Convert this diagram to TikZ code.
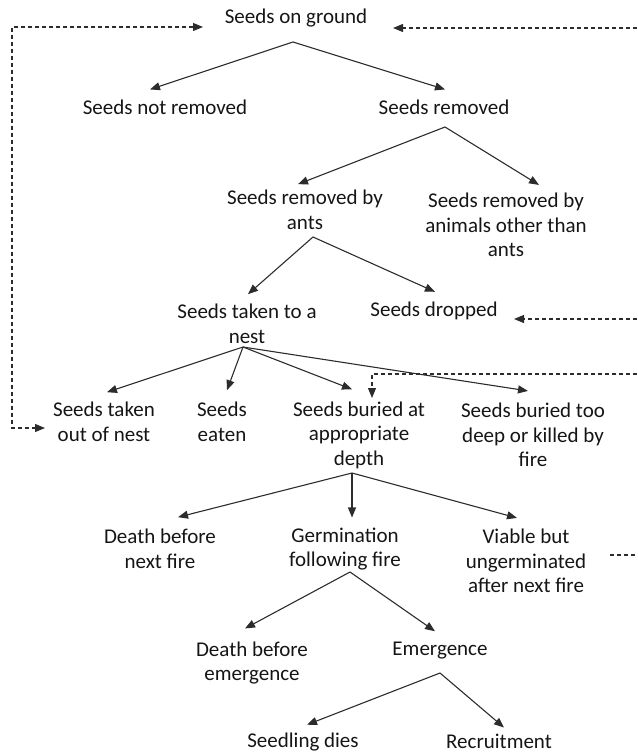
\documentclass[tikz,border=0pt]{standalone}
\usepackage{fontspec}
\setmainfont{Carlito}
\usepackage{tikz}
\usetikzlibrary{arrows.meta,positioning,calc}
\definecolor{ink}{HTML}{151515}
\tikzset{
  >=Latex,
  every node/.style={font=\fontsize{21}{24.5}\selectfont,text=ink},
  stage/.style={align=center,inner sep=0pt},
  arrow/.style={-{Triangle[length=10pt,width=8pt]},line width=1.1pt,draw=ink!90},
  feedback/.style={arrow,dash pattern=on 4pt off 3pt},
  twoway/.style={feedback,{Triangle[length=10pt,width=8pt]}-{Triangle[length=10pt,width=8pt]}}
}

\begin{document}
\begin{tikzpicture}[x=1pt,y=-1pt]
  \useasboundingbox (0,0) rectangle (637,754);

  \node[stage] (ground) at (296,18) {Seeds on ground};
  \node[stage] (notrem) at (165,107) {Seeds not removed};
  \node[stage] (removed) at (444,107) {Seeds removed};
  \node[stage] (byants) at (305,210) {Seeds removed by\\ants};
  \node[stage] (byother) at (506,225) {Seeds removed by\\animals other than\\ants};
  \node[stage] (nest) at (247,324) {Seeds taken to a\\nest};
  \node[stage] (dropped) at (434,311) {Seeds dropped};
  \node[stage] (out) at (104,422) {Seeds taken\\out of nest};
  \node[stage] (eaten) at (222,422) {Seeds\\eaten};
  \node[stage] (buried) at (359,435) {Seeds buried at\\appropriate\\depth};
  \node[stage] (deep) at (533,435) {Seeds buried too\\deep or killed by\\fire};
  \node[stage] (dnext) at (160,549) {Death before\\next fire};
  \node[stage] (germ) at (345,549) {Germination\\following fire};
  \node[stage] (viable) at (526,561) {Viable but\\ungerminated\\after next fire};
  \node[stage] (demerg) at (252,663) {Death before\\emergence};
  \node[stage] (emerg) at (440,651) {Emergence};
  \node[stage] (dies) at (303,742) {Seedling dies};
  \node[stage] (recruit) at (499,741) {Recruitment};

  \coordinate (groundF) at (293,42);
  \coordinate (removedF) at (445,127);
  \coordinate (byantsF) at (313,237);
  \coordinate (nestF) at (243,347);
  \coordinate (buriedF) at (352,473);
  \coordinate (germF) at (350,572);
  \coordinate (emergF) at (440,673);

  \draw[arrow] (groundF) -- ([xshift=-15pt,yshift=10pt]notrem.north);
  \draw[arrow] (groundF) -- ([xshift=1pt,yshift=10pt]removed.north);
  \draw[arrow] (removedF) -- ([xshift=-7pt,yshift=6pt]byants.north);
  \draw[arrow] (removedF) -- ([xshift=33pt,yshift=8pt]byother.north);
  \draw[arrow] (byantsF) -- ([xshift=1pt,yshift=10pt]nest.north);
  \draw[arrow] (byantsF) -- ([xshift=1pt,yshift=10pt]dropped.north);
  \draw[arrow] (nestF) -- ([xshift=3pt,yshift=10pt]out.north);
  \draw[arrow] (nestF) -- ([xshift=5pt,yshift=12pt]eaten.north);
  \draw[arrow] (nestF) -- ([xshift=-7pt,yshift=12pt]buried.north);
  \draw[arrow] (nestF) -- ([xshift=-5pt,yshift=12pt]deep.north);
  \draw[arrow] (buriedF) -- ([xshift=18pt,yshift=12pt]dnext.north);
  \draw[arrow] (buriedF) -- ([xshift=7pt,yshift=10pt]germ.north);
  \draw[arrow] (buriedF) -- ([xshift=-9pt,yshift=11pt]viable.north);
  \draw[arrow] (germF) -- ([xshift=-7pt,yshift=13pt]demerg.north);
  \draw[arrow] (germF) -- ([xshift=-5pt,yshift=11pt]emerg.north);
  \draw[arrow] (emergF) -- ([xshift=4pt,yshift=8pt]dies.north);
  \draw[arrow] (emergF) -- ([xshift=5pt,yshift=6pt]recruit.north);

  \coordinate (groundIn) at (203,27);
  \coordinate (leftTop) at (12,27);
  \coordinate (leftBot) at (12,428);
  \coordinate (outIn) at (45,428);
  \coordinate (edgeTop) at (637,28);
  \coordinate (groundBack) at (393,28);
  \coordinate (edgeDrop) at (637,319);
  \coordinate (dropIn) at (514,319);
  \coordinate (edgeBury) at (637,374);
  \coordinate (buryCorner) at (372,374);
  \coordinate (buryIn) at (372,398);
  \coordinate (viableOut) at (610,555);
  \coordinate (edgeViable) at (637,555);

  \draw[twoway] (groundIn) -- (leftTop) -- (leftBot) -- (outIn);
  \draw[feedback] (edgeTop) -- (groundBack);
  \draw[feedback] (edgeDrop) -- (dropIn);
  \draw[feedback] (edgeBury) -- (buryCorner) -- (buryIn);
  \draw[feedback,-] (viableOut) -- (edgeViable);
\end{tikzpicture}
\end{document}
